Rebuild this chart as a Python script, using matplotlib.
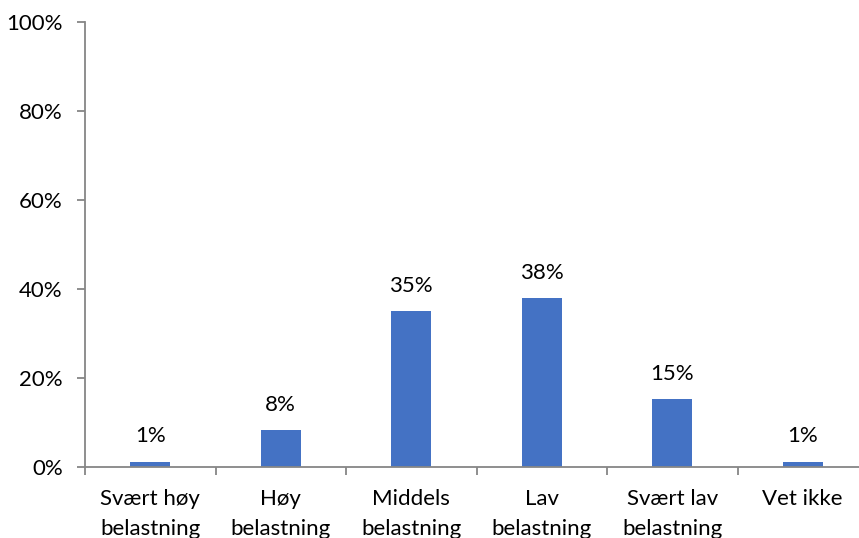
import matplotlib
matplotlib.use("Agg")
import matplotlib.pyplot as plt
from matplotlib.ticker import FuncFormatter, FixedLocator

categories = ["Svært høy\nbelastning", "Høy\nbelastning", "Middels\nbelastning",
              "Lav\nbelastning", "Svært lav\nbelastning", "Vet ikke"]
values = [1.2, 8.3, 35.1, 38.0, 15.3, 1.2]
labels = ["1%", "8%", "35%", "38%", "15%", "1%"]
yticks = [0, 20, 40, 60, 80, 100]

plt.rcParams['font.family'] = ['Lato', 'DejaVu Sans']
FS = 16
fig = plt.figure(figsize=(8.59, 5.38), dpi=100)
ax = fig.add_axes([85/859, 71/538, 783/859, 445/538])

x = list(range(len(categories)))
ax.bar(x, values, width=0.31, color="#4472C4", zorder=2)
for xi, v, lab in zip(x, values, labels):
    ax.annotate(lab, (xi, v), xytext=(0, 11), textcoords="offset points",
                ha="center", va="bottom", fontsize=FS, color="#000000")

ax.set_xlim(-0.5, len(categories) - 0.5)
ax.set_ylim(0, 100)
ax.set_yticks(yticks)
ax.yaxis.set_major_formatter(FuncFormatter(lambda v, p: f"{int(v)}%"))
ax.set_xticks(x)
ax.set_xticklabels(categories, fontsize=FS, linespacing=1.6)
ax.tick_params(axis="x", length=0, pad=16)
ax.xaxis.set_minor_locator(FixedLocator([i + 0.5 for i in range(-1, len(categories))]))
ax.tick_params(axis="x", which="minor", length=6, width=1.3, color="#868686")
ax.tick_params(axis="y", length=6, width=1.3, color="#868686", labelsize=FS, pad=10)

for s in ["top", "right"]:
    ax.spines[s].set_visible(False)
for s in ["left", "bottom"]:
    ax.spines[s].set_color("#868686")
    ax.spines[s].set_linewidth(1.3)

fig.savefig("out.png", dpi=100)
